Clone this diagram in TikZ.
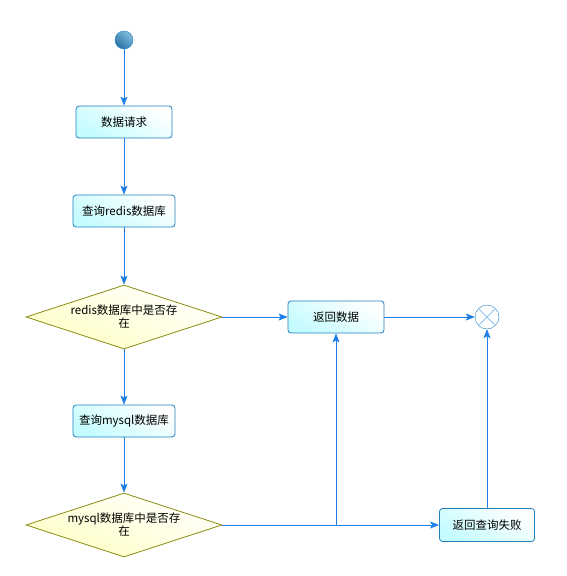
\documentclass[tikz,border=0pt]{standalone}
\usepackage{fontspec}
\setmainfont{Noto Sans CJK SC}
\usepackage{tikz}
\usetikzlibrary{shapes,arrows.meta,positioning,calc}
\definecolor{lineblue}{RGB}{30,128,230}
\definecolor{boxblue}{RGB}{32,128,192}
\definecolor{boxcyan}{RGB}{196,252,255}
\definecolor{olive_edge}{RGB}{140,140,20}
\definecolor{pale_yellow}{RGB}{255,255,196}
\definecolor{balllight}{RGB}{130,190,220}
\definecolor{balldark}{RGB}{40,115,165}

\begin{document}
\begin{tikzpicture}[x=1pt, y=-1pt,
    font=\fontsize{11.5}{13}\selectfont,
    box_style/.style={rectangle, rounded corners=3pt, draw=boxblue, thick,
        top color=white, bottom color=boxcyan, shading angle=-30,
        minimum height=32pt, inner sep=2pt},
    cond_style/.style={diamond, draw=olive_edge, thick, aspect=3,
        minimum width=196pt, minimum height=64pt, inner sep=0pt, align=center,
        top color=white, bottom color=pale_yellow, shading angle=-20},
    edge_style/.style={draw=lineblue, thick, -{Stealth[length=9pt,width=7pt,inset=2pt]}},
    line_style/.style={draw=lineblue, thick}]

	\useasboundingbox (0,0) rectangle (567,576);

	\node[circle, minimum size=18pt, inner sep=0pt, draw=boxblue,
	      top color=balllight, bottom color=balldark, shading angle=-40] (start) at (124, 40) {};
	\node[box_style, minimum width=96pt] (req) at (124, 122) {数据请求};
	\node[box_style, minimum width=102pt] (redis) at (124, 211) {查询redis数据库};
	\node[cond_style] (c1) at (124, 317) {redis数据库中是否存\\在};
	\node[box_style, minimum width=96pt] (ret) at (336, 317) {返回数据};
	\node[circle, minimum size=24pt, inner sep=0pt, draw=boxblue, fill=white] (stop) at (487, 317) {};
	\node[box_style, minimum width=102pt] (mysql) at (124, 421) {查询mysql数据库};
	\node[cond_style] (c2) at (124, 525) {mysql数据库中是否存\\在};
	\node[box_style, minimum width=95pt, minimum height=33pt] (fail) at (487, 525) {返回查询失败};

	% cross in end node
	\draw[lineblue!50, thick] (stop.north east) -- (stop.south west);
	\draw[lineblue!50, thick] (stop.north west) -- (stop.south east);

	\coordinate (j) at (ret.south |- c2.east);

	\draw[edge_style] (start) -- (req);
	\draw[edge_style] (req) -- (redis);
	\draw[edge_style] (redis) -- (c1);
	\draw[edge_style] (c1) -- (ret);
	\draw[edge_style] (ret) -- (stop);
	\draw[edge_style] (c1) -- (mysql);
	\draw[edge_style] (mysql) -- (c2);
	\draw[edge_style] (c2) -- (fail);
	\draw[edge_style] (j) -- (ret);
	\draw[edge_style] (fail) -- (stop);
\end{tikzpicture}
\end{document}
